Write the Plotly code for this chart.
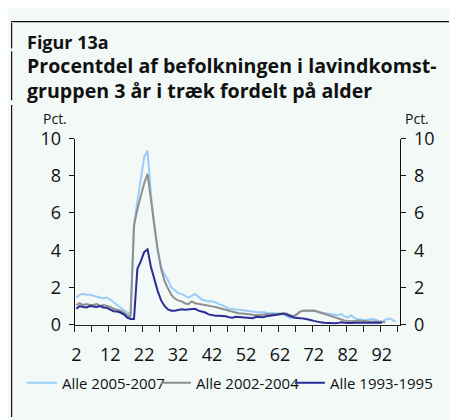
import plotly.graph_objects as go

ages = list(range(2, 98))

alle_2005_2007 = [
    1.45, 1.6, 1.65, 1.6, 1.6, 1.55, 1.5, 1.45, 1.4, 1.45,
    1.35, 1.2, 1.05, 0.95, 0.8, 0.65, 0.6, 5.4, 6.6, 7.8,
    9.0, 9.35, 7.0, 5.2, 4.0, 3.1, 2.7, 2.4, 2.0, 1.85,
    1.7, 1.65, 1.55, 1.45, 1.55, 1.65, 1.5, 1.35, 1.3, 1.25,
    1.25, 1.2, 1.1, 1.05, 0.95, 0.85, 0.85, 0.8, 0.8, 0.78,
    0.75, 0.7, 0.7, 0.68, 0.65, 0.68, 0.63, 0.6, 0.62, 0.6,
    0.6, 0.55, 0.45, 0.35, 0.45, 0.6, 0.72, 0.75, 0.74, 0.76,
    0.75, 0.68, 0.65, 0.62, 0.6, 0.57, 0.52, 0.5, 0.58, 0.45,
    0.38, 0.5, 0.35, 0.28, 0.27, 0.25, 0.27, 0.3, 0.28, 0.2,
    0.17, 0.25, 0.33, 0.28, 0.15, None,
]

alle_2002_2004 = [
    1.05, 1.15, 1.05, 1.1, 1.05, 1.05, 1.1, 1.0, 1.05, 1.0,
    0.95, 0.85, 0.8, 0.75, 0.65, 0.5, 0.45, 5.3, 6.2, 6.9,
    7.6, 8.1, 6.7, 5.2, 4.0, 3.0, 2.35, 1.95, 1.6, 1.4,
    1.3, 1.25, 1.15, 1.1, 1.25, 1.15, 1.1, 1.08, 1.05, 1.0,
    0.98, 0.95, 0.9, 0.85, 0.78, 0.72, 0.68, 0.62, 0.6, 0.6,
    0.58, 0.55, 0.5, 0.5, 0.52, 0.55, 0.55, 0.55, 0.55, 0.56,
    0.6, 0.62, 0.6, 0.5, 0.45, 0.55, 0.7, 0.75, 0.76, 0.75,
    0.76, 0.7, 0.62, 0.58, 0.52, 0.46, 0.38, 0.3, 0.25, 0.22,
    0.2, 0.17, 0.18, 0.22, 0.2, 0.17, 0.17, 0.15, 0.17, 0.15,
    0.13, 0.12, None, None, None, None,
]

alle_1993_1995 = [
    0.85, 1.0, 0.95, 0.92, 1.0, 0.98, 0.95, 1.0, 0.92, 0.9,
    0.8, 0.72, 0.7, 0.65, 0.55, 0.38, 0.3, 0.3, 3.0, 3.4,
    3.9, 4.05, 3.1, 2.4, 1.8, 1.3, 1.0, 0.82, 0.75, 0.75,
    0.8, 0.82, 0.8, 0.83, 0.82, 0.85, 0.75, 0.7, 0.65, 0.55,
    0.5, 0.48, 0.47, 0.47, 0.45, 0.4, 0.37, 0.42, 0.4, 0.36,
    0.34, 0.36, 0.34, 0.42, 0.42, 0.4, 0.45, 0.48, 0.5, 0.5,
    0.55, 0.6, 0.55, 0.46, 0.38, 0.34, 0.34, 0.33, 0.3, 0.25,
    0.2, 0.15, 0.12, 0.1, 0.08, 0.08, 0.07, 0.08, 0.12, 0.1,
    0.08, 0.08, 0.1, 0.1, 0.1, 0.1, 0.1, 0.1, 0.1, 0.1,
    0.1, None, None, None, None, None,
]

series_names = ["Alle 2005-2007", "Alle 2002-2004", "Alle 1993-1995"]
series_colors = ["#9ACDFA", "#8F8F8F", "#2A2C98"]
x_tick_labels = [2, 12, 22, 32, 42, 52, 62, 72, 82, 92]
y_ticks = [0, 2, 4, 6, 8, 10]

W, H = 457, 420
BG = "#F2F9F6"
FONT = "Open Sans"

fig = go.Figure()
for i, (name, vals, col) in enumerate(zip(series_names,
                                          [alle_2005_2007, alle_2002_2004, alle_1993_1995],
                                          series_colors)):
    fig.add_trace(go.Scatter(x=ages, y=vals, mode="lines", name=name,
                             line=dict(color=col, width=2), connectgaps=False,
                             legendwidth=(110 if i == 2 else None)))
# invisible trace so the right-hand axis is drawn
fig.add_trace(go.Scatter(x=[ages[0]], y=[0], yaxis="y2", mode="lines", showlegend=False,
                         hoverinfo="skip", line=dict(width=0), opacity=0))

# page has an 8px body margin: positions below are in figure pixels
x0, x1 = 64 / W, 392 / W
y0, y1 = 1 - 322 / H, 1 - 124.7 / H

fig.update_layout(
    width=W, height=H, autosize=False,
    margin=dict(l=0, r=0, t=0, b=0),
    paper_bgcolor=BG, plot_bgcolor=BG,
    font=dict(family=FONT, color="#111111"),
    xaxis=dict(domain=[x0, x1], range=[1.5, 97.5], tickmode="array", tickvals=x_tick_labels,
               ticks="", showgrid=False, zeroline=False, showline=True, linecolor="#222222",
               linewidth=1, tickfont=dict(size=18, family=FONT, color="#111111"),
               ticklabelstandoff=14,
               minor=dict(tickmode="array", tickvals=[1.5 + 5 * k for k in range(20)],
                          ticks="outside", ticklen=6, tickcolor="#222222", tickwidth=1, showgrid=False)),
    yaxis=dict(domain=[y0, y1], range=[0, 10], tickmode="array", tickvals=y_ticks,
               ticks="outside", ticklen=5, tickcolor="#111111", showgrid=False, zeroline=False,
               showline=True, linecolor="#111111", linewidth=1,
               tickfont=dict(size=18, family=FONT, color="#111111"), ticklabelstandoff=4),
    yaxis2=dict(overlaying="y", side="right", range=[0, 10], tickmode="array", tickvals=y_ticks,
                ticks="outside", ticklen=5, tickcolor="#111111", showgrid=False, zeroline=False,
                showline=True, linecolor="#111111", linewidth=1,
                tickfont=dict(size=18, family=FONT, color="#111111"), ticklabelstandoff=4),
    legend=dict(orientation="h", x=11 / W, xanchor="left", y=1 - 384 / H, yanchor="middle",
                font=dict(size=15, family=FONT, color="#111111"), bgcolor="rgba(0,0,0,0)",
                entrywidth=89, entrywidthmode="pixels", itemwidth=30),
    showlegend=True,
)

ann = [
    dict(text="<b>Figur 13a</b>", x=13.7 / W, y=1 - 22.5 / H, size=18),
    dict(text="<b>Procentdel af befolkningen i lavindkomst-<br>gruppen 3 år i træk fordelt på alder</b>",
         x=13.7 / W, y=1 - 60.4 / H, size=19.6),
    dict(text="Pct.", x=30 / W, y=1 - 103 / H, size=14),
    dict(text="Pct.", x=394.5 / W, y=1 - 103 / H, size=14),
]
for a in ann:
    fig.add_annotation(text=a["text"], xref="paper", yref="paper", x=a["x"], y=a["y"],
                       xanchor="left", yanchor="middle", align="left", showarrow=False,
                       font=dict(size=a["size"], family=FONT, color="#111111"))

line_col = "#111111"
fig.add_shape(type="line", xref="paper", yref="paper", x0=0, x1=1, y0=1 - 0.6 / H, y1=1 - 0.6 / H,
              line=dict(color=line_col, width=1.2))
for ya, yb in [(2, 29), (32, 84), (89, 420)]:
    fig.add_shape(type="line", xref="paper", yref="paper", x0=0.6 / W, x1=0.6 / W,
                  y0=1 - ya / H, y1=1 - yb / H, line=dict(color=line_col, width=1.2))

fig.write_html("out.html")
